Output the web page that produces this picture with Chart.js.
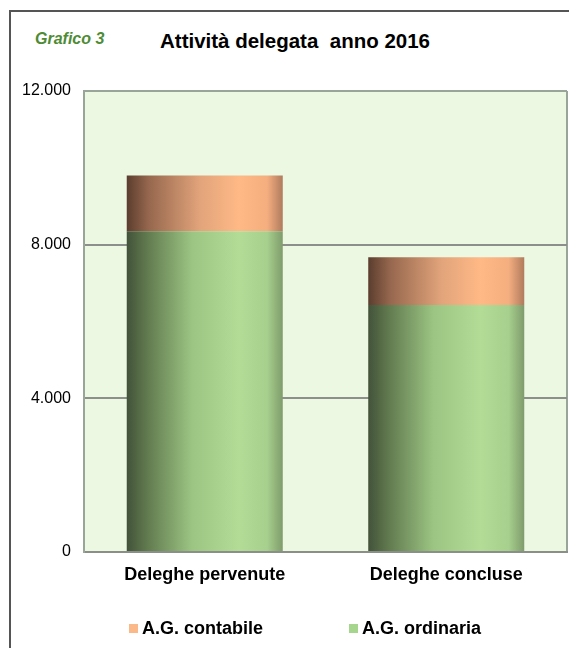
<!DOCTYPE html>
<html>
<head>
<meta charset="utf-8">
<script src="https://cdn.jsdelivr.net/npm/chart.js@4"></script>
<style>
  body { margin: 0; background: #fff; font-family: "Liberation Sans", Arial, sans-serif; }
  #wrap { position: relative; width: 569px; height: 648px; overflow: hidden; }
  #frame { position: absolute; left: 9px; top: 10px; width: 700px; height: 800px;
           border-left: 2px solid #555; border-top: 2px solid #555; }
  .txt { position: absolute; white-space: pre; font-weight: bold; }
  #sub { left: 35px; top: 31px; font-size: 16px; line-height: 16px; font-style: italic; color: #4e8b35; }
  #title { left: 160px; top: 31px; font-size: 20.5px; line-height: 20px; color: #000; }
  canvas { position: absolute; left: 0; top: 0; }
</style>
</head>
<body>
<div id="wrap">
  <div id="frame"></div>
  <div class="txt" id="sub">Grafico 3</div>
  <div class="txt" id="title">Attività delegata  anno 2016</div>
  <canvas id="chart" width="569" height="648"></canvas>
</div>
<script>
// Dati del grafico
const categorie = ['Deleghe pervenute', 'Deleghe concluse'];
const agOrdinaria = [8350, 6430];
const agContabile = [1450, 1240];
const yTicks = [0, 4000, 8000, 12000];

const barPct = 0.646;

function formatta(v) {
    return String(v).replace(/\B(?=(\d{3})+(?!\d))/g, '.');
}

// Gradiente orizzontale che simula il cilindro
function gradiente(stops, fallback) {
    return function (ctx) {
        const chart = ctx.chart;
        const area = chart.chartArea;
        const xs = chart.scales.x;
        if (!area || !xs || ctx.dataIndex === undefined) return fallback;
        const cx = xs.getPixelForValue(ctx.dataIndex);
        const half = (area.width / categorie.length) * barPct / 2;
        const g = chart.ctx.createLinearGradient(cx - half, 0, cx + half, 0);
        stops.forEach(s => g.addColorStop(s[0], s[1]));
        return g;
    };
}

const verde = [[0, '#42523a'], [0.12, '#5f774d'], [0.42, '#9cc583'], [0.72, '#b3dc97'], [0.9, '#a7cf8d'], [1, '#7f9c6c']];
const arancio = [[0, '#5b3d2e'], [0.14, '#96674e'], [0.47, '#e2a47b'], [0.72, '#ffb986'], [0.9, '#f4ae7f'], [1, '#b07b5d']];

// Sfondo e bordo dell'area del grafico, legenda
const sfondo = {
    id: 'sfondo',
    beforeDraw(chart) {
        const { ctx, chartArea: a } = chart;
        ctx.save();
        ctx.fillStyle = '#ecf8e2';
        ctx.fillRect(a.left, a.top, a.width, a.height);
        ctx.strokeStyle = '#9aa59a';
        ctx.lineWidth = 2;
        ctx.beginPath();
        ctx.moveTo(a.right, a.top);
        ctx.lineTo(a.right, a.bottom);
        ctx.stroke();
        ctx.restore();
    },
    afterDraw(chart) {
        const ctx = chart.ctx;
        const items = [
            { ds: chart.data.datasets[1], x: 129 },
            { ds: chart.data.datasets[0], x: 349 }
        ];
        ctx.save();
        ctx.font = 'bold 18px "Liberation Sans", Arial, sans-serif';
        ctx.textBaseline = 'middle';
        items.forEach(it => {
            ctx.fillStyle = it.ds.legendColor;
            ctx.fillRect(it.x, 624, 9, 9);
            ctx.fillStyle = '#000';
            ctx.fillText(it.ds.label, it.x + 13, 629);
        });
        ctx.restore();
    }
};

new Chart(document.getElementById('chart').getContext('2d'), {
    type: 'bar',
    data: {
        labels: categorie,
        datasets: [
            {
                label: 'A.G. ordinaria',
                data: agOrdinaria,
                backgroundColor: gradiente(verde, '#a6d68e'),
                legendColor: '#a6d68e'
            },
            {
                label: 'A.G. contabile',
                data: agContabile,
                backgroundColor: gradiente(arancio, '#fbb888'),
                legendColor: '#fbb888'
            }
        ]
    },
    options: {
        responsive: false,
        animation: false,
        layout: { padding: { left: 0, top: 91, right: 2, bottom: 0 } },
        datasets: { bar: { categoryPercentage: 1, barPercentage: barPct } },
        plugins: {
            legend: { display: false },
            title: { display: false },
            tooltip: { enabled: false }
        },
        scales: {
            x: {
                stacked: true,
                grid: { display: false, drawTicks: false },
                border: { display: true, color: '#8a8f8a', width: 2 },
                ticks: {
                    padding: 12,
                    color: '#000',
                    font: { family: '"Liberation Sans", Arial, sans-serif', size: 18, weight: 'bold' }
                },
                afterFit(s) { s.height = 96; }
            },
            y: {
                stacked: true,
                min: 0,
                max: 12000,
                afterBuildTicks(s) { s.ticks = yTicks.map(v => ({ value: v })); },
                grid: {
                    drawTicks: false,
                    lineWidth: 2,
                    color: ctx => ctx.tick && ctx.tick.value === 12000 ? '#9aa59a' : '#8c8f8c'
                },
                border: { display: true, color: '#9aa59a', width: 2 },
                ticks: {
                    padding: 13,
                    color: '#000',
                    font: { family: '"Liberation Sans", Arial, sans-serif', size: 16 },
                    callback: v => formatta(v)
                },
                afterFit(s) { s.width = 84; }
            }
        }
    },
    plugins: [sfondo]
});
</script>
</body>
</html>
